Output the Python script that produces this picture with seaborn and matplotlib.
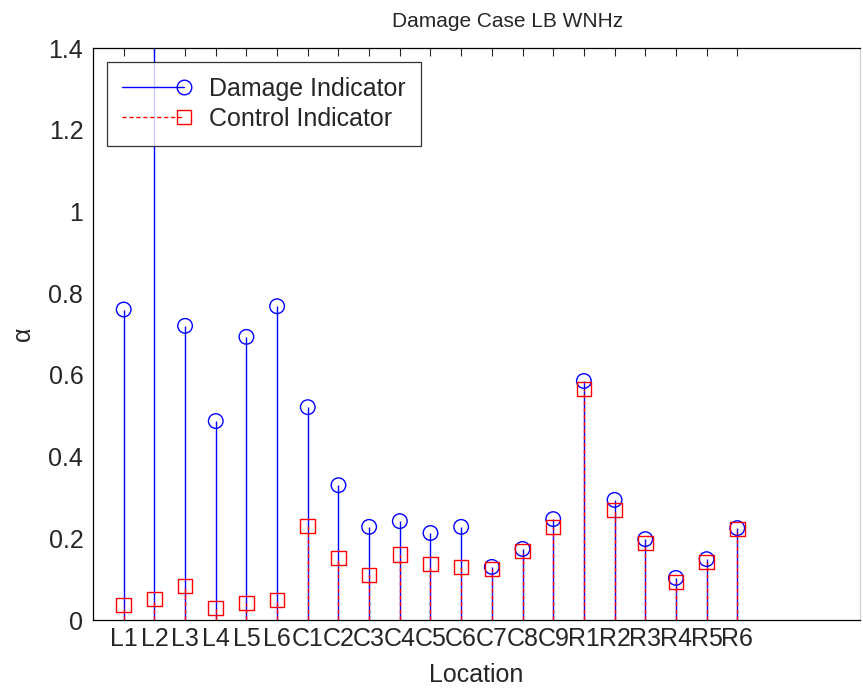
import matplotlib
matplotlib.use("Agg")
import matplotlib.pyplot as plt
import seaborn as sns
import pandas as pd
import numpy as np
from matplotlib.lines import Line2D
from matplotlib.legend_handler import HandlerLine2D

locations = ["L1", "L2", "L3", "L4", "L5", "L6",
             "C1", "C2", "C3", "C4", "C5", "C6", "C7", "C8", "C9",
             "R1", "R2", "R3", "R4", "R5", "R6"]
damage = [0.76, 1.60, 0.72, 0.487, 0.693, 0.768,
          0.521, 0.33, 0.228, 0.242, 0.213, 0.228, 0.13, 0.174, 0.247,
          0.585, 0.294, 0.198, 0.103, 0.149, 0.225]
control = [0.037, 0.051, 0.083, 0.029, 0.042, 0.049,
           0.23, 0.152, 0.11, 0.16, 0.137, 0.13, 0.125, 0.169, 0.228,
           0.565, 0.269, 0.188, 0.093, 0.142, 0.223]
yticks = [0, 0.2, 0.4, 0.6, 0.8, 1, 1.2, 1.4]
ytick_labels = ["0", "0.2", "0.4", "0.6", "0.8", "1", "1.2", "1.4"]

sns.set_style("white")
plt.rcParams['font.family'] = ['Liberation Sans', 'DejaVu Sans']


class EndMarkerHandler(HandlerLine2D):
    """MATLAB-style legend entry: line with the marker at its right end."""
    def create_artists(self, legend, orig_handle, xdescent, ydescent,
                       width, height, fontsize, trans):
        artists = super().create_artists(legend, orig_handle, xdescent, ydescent,
                                         width, height, fontsize, trans)
        for a in artists:
            xd = a.get_xdata()
            if len(xd) >= 2:
                a.set_markevery([len(xd) - 1])
        return artists


x = np.arange(1, len(locations) + 1)
df = pd.DataFrame({"x": x, "loc": locations, "damage": damage, "control": control})

fig = plt.figure(figsize=(8.63, 6.94), dpi=100)
ax = fig.add_axes([0.1078, 0.1066, 0.8887, 0.8242])

blue = "#0000ff"
red = "#ff0000"
ax.vlines(df["x"], 0, df["damage"], colors=blue, linewidth=1.0, zorder=2)
ax.vlines(df["x"], 0, df["control"], colors=red, linewidth=1.0,
          linestyles=(0, (3, 2)), zorder=3)
sns.scatterplot(data=df, x="x", y="damage", ax=ax, marker="o", s=110,
                facecolors="none", edgecolor=blue, linewidth=1.0, zorder=4, legend=False)
sns.scatterplot(data=df, x="x", y="control", ax=ax, marker="s", s=110,
                facecolors="none", edgecolor=red, linewidth=1.0, zorder=5, legend=False)

ax.set_xlim(0, 25)
ax.set_ylim(0, 1.4)
ax.set_xticks(x)
ax.set_xticklabels(locations, fontsize=18)
ax.set_yticks(yticks)
ax.set_yticklabels(ytick_labels, fontsize=18)
ax.tick_params(direction="in", top=True, right=False, length=6, width=0.8, pad=5)
ax.tick_params(axis="y", pad=7)
for s in ax.spines.values():
    s.set_color("black")
    s.set_linewidth(0.9)
ax.spines["right"].set_color("#d0d0d0")

ax.set_xlabel("Location", fontsize=18, labelpad=9)
ax.set_ylabel("α", fontsize=18, labelpad=10)
ax.set_title("Damage Case LB WNHz", fontsize=15, pad=15, x=0.54)

handles = [
    Line2D([0], [0], color=blue, linewidth=1.0, marker="o", markersize=10.5,
           markerfacecolor="none", markeredgecolor=blue),
    Line2D([0], [0], color=red, linewidth=1.0, linestyle=(0, (3, 2)), marker="s",
           markersize=10.5, markerfacecolor="none", markeredgecolor=red),
]
leg = ax.legend(handles, ["Damage Indicator", "Control Indicator"], loc="upper left",
                fontsize=18, frameon=True, fancybox=False, edgecolor="black",
                borderaxespad=0.55, handlelength=2.5, handletextpad=1.0,
                borderpad=0.6, labelspacing=0.25, numpoints=1,
                handler_map={Line2D: EndMarkerHandler()})
leg.get_frame().set_linewidth(0.9)

fig.savefig("out.png", dpi=100)
